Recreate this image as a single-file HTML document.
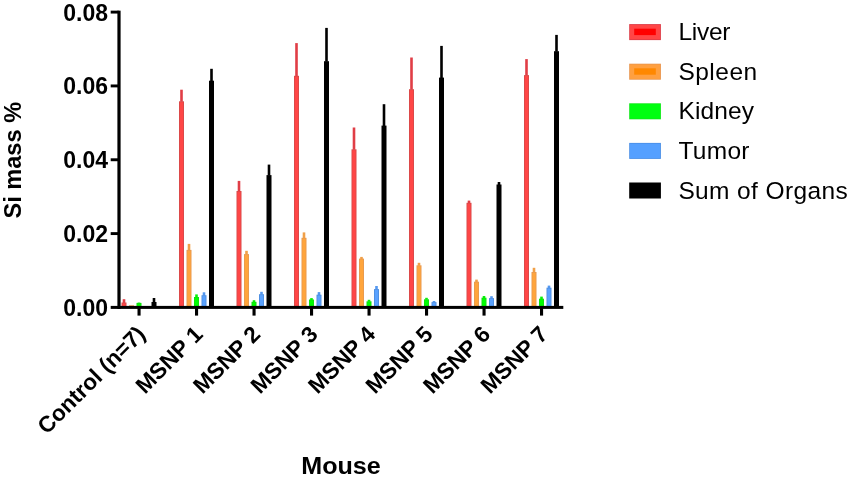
<!DOCTYPE html>
<html><head><meta charset="utf-8"><style>
html,body{margin:0;padding:0;background:#fff;}
body{width:850px;height:478px;overflow:hidden;}
svg{display:block;will-change:transform;}
.b{font-family:"Liberation Sans",sans-serif;font-weight:bold;fill:#000;}
.r{font-family:"Liberation Sans",sans-serif;font-weight:normal;fill:#000;}
</style></head><body>
<svg width="850" height="478" viewBox="0 0 850 478">
<rect width="850" height="478" fill="#fff"/>
<rect x="122.70" y="299.20" width="2.6" height="3.80" fill="#e03e46"/>
<rect x="121.50" y="302.50" width="5.0" height="4.50" fill="#d84a4a"/>
<rect x="122.40" y="303.40" width="3.20" height="3.60" fill="#ff4646"/>
<rect x="129.00" y="305.30" width="5.0" height="1.70" fill="#e89a50"/>
<rect x="137.70" y="302.60" width="2.6" height="0.80" fill="#08f008"/>
<rect x="136.50" y="302.90" width="5.0" height="4.10" fill="#10e010"/>
<rect x="137.40" y="303.80" width="3.20" height="3.20" fill="#00ff00"/>
<rect x="152.70" y="298.00" width="2.6" height="4.50" fill="#000000"/>
<rect x="151.50" y="302.00" width="5.0" height="5.00" fill="#000000"/>
<rect x="152.40" y="302.90" width="3.20" height="4.10" fill="#000000"/>
<rect x="180.20" y="89.70" width="2.6" height="12.10" fill="#e03e46"/>
<rect x="179.00" y="101.30" width="5.0" height="205.70" fill="#d84a4a"/>
<rect x="179.90" y="102.20" width="3.20" height="204.80" fill="#ff4646"/>
<rect x="187.70" y="243.90" width="2.6" height="6.50" fill="#f0a048"/>
<rect x="186.50" y="249.90" width="5.0" height="57.10" fill="#e89a50"/>
<rect x="187.40" y="250.80" width="3.20" height="56.20" fill="#ffa53c"/>
<rect x="195.20" y="294.40" width="2.6" height="3.10" fill="#08f008"/>
<rect x="194.00" y="297.00" width="5.0" height="10.00" fill="#10e010"/>
<rect x="194.90" y="297.90" width="3.20" height="9.10" fill="#00ff00"/>
<rect x="202.70" y="292.30" width="2.6" height="3.40" fill="#5498f0"/>
<rect x="201.50" y="295.20" width="5.0" height="11.80" fill="#4e8ee0"/>
<rect x="202.40" y="296.10" width="3.20" height="10.90" fill="#5aa2ff"/>
<rect x="210.20" y="68.80" width="2.6" height="12.40" fill="#000000"/>
<rect x="209.00" y="80.70" width="5.0" height="226.30" fill="#000000"/>
<rect x="209.90" y="81.60" width="3.20" height="225.40" fill="#000000"/>
<rect x="237.70" y="180.90" width="2.6" height="10.60" fill="#e03e46"/>
<rect x="236.50" y="191.00" width="5.0" height="116.00" fill="#d84a4a"/>
<rect x="237.40" y="191.90" width="3.20" height="115.10" fill="#ff4646"/>
<rect x="245.20" y="250.80" width="2.6" height="3.80" fill="#f0a048"/>
<rect x="244.00" y="254.10" width="5.0" height="52.90" fill="#e89a50"/>
<rect x="244.90" y="255.00" width="3.20" height="52.00" fill="#ffa53c"/>
<rect x="252.70" y="300.20" width="2.6" height="2.10" fill="#08f008"/>
<rect x="251.50" y="301.80" width="5.0" height="5.20" fill="#10e010"/>
<rect x="252.40" y="302.70" width="3.20" height="4.30" fill="#00ff00"/>
<rect x="260.20" y="291.80" width="2.6" height="2.90" fill="#5498f0"/>
<rect x="259.00" y="294.20" width="5.0" height="12.80" fill="#4e8ee0"/>
<rect x="259.90" y="295.10" width="3.20" height="11.90" fill="#5aa2ff"/>
<rect x="267.70" y="164.60" width="2.6" height="11.00" fill="#000000"/>
<rect x="266.50" y="175.10" width="5.0" height="131.90" fill="#000000"/>
<rect x="267.40" y="176.00" width="3.20" height="131.00" fill="#000000"/>
<rect x="295.20" y="43.10" width="2.6" height="33.20" fill="#e03e46"/>
<rect x="294.00" y="75.80" width="5.0" height="231.20" fill="#d84a4a"/>
<rect x="294.90" y="76.70" width="3.20" height="230.30" fill="#ff4646"/>
<rect x="302.70" y="232.40" width="2.6" height="5.90" fill="#f0a048"/>
<rect x="301.50" y="237.80" width="5.0" height="69.20" fill="#e89a50"/>
<rect x="302.40" y="238.70" width="3.20" height="68.30" fill="#ffa53c"/>
<rect x="310.20" y="298.10" width="2.6" height="1.90" fill="#08f008"/>
<rect x="309.00" y="299.50" width="5.0" height="7.50" fill="#10e010"/>
<rect x="309.90" y="300.40" width="3.20" height="6.60" fill="#00ff00"/>
<rect x="317.70" y="292.10" width="2.6" height="3.10" fill="#5498f0"/>
<rect x="316.50" y="294.70" width="5.0" height="12.30" fill="#4e8ee0"/>
<rect x="317.40" y="295.60" width="3.20" height="11.40" fill="#5aa2ff"/>
<rect x="325.20" y="27.90" width="2.6" height="33.80" fill="#000000"/>
<rect x="324.00" y="61.20" width="5.0" height="245.80" fill="#000000"/>
<rect x="324.90" y="62.10" width="3.20" height="244.90" fill="#000000"/>
<rect x="352.70" y="127.50" width="2.6" height="22.30" fill="#e03e46"/>
<rect x="351.50" y="149.30" width="5.0" height="157.70" fill="#d84a4a"/>
<rect x="352.40" y="150.20" width="3.20" height="156.80" fill="#ff4646"/>
<rect x="360.20" y="256.90" width="2.6" height="2.20" fill="#f0a048"/>
<rect x="359.00" y="258.60" width="5.0" height="48.40" fill="#e89a50"/>
<rect x="359.90" y="259.50" width="3.20" height="47.50" fill="#ffa53c"/>
<rect x="367.70" y="299.80" width="2.6" height="2.00" fill="#08f008"/>
<rect x="366.50" y="301.30" width="5.0" height="5.70" fill="#10e010"/>
<rect x="367.40" y="302.20" width="3.20" height="4.80" fill="#00ff00"/>
<rect x="375.20" y="286.00" width="2.6" height="3.60" fill="#5498f0"/>
<rect x="374.00" y="289.10" width="5.0" height="17.90" fill="#4e8ee0"/>
<rect x="374.90" y="290.00" width="3.20" height="17.00" fill="#5aa2ff"/>
<rect x="382.70" y="104.20" width="2.6" height="21.90" fill="#000000"/>
<rect x="381.50" y="125.60" width="5.0" height="181.40" fill="#000000"/>
<rect x="382.40" y="126.50" width="3.20" height="180.50" fill="#000000"/>
<rect x="410.20" y="57.50" width="2.6" height="32.20" fill="#e03e46"/>
<rect x="409.00" y="89.20" width="5.0" height="217.80" fill="#d84a4a"/>
<rect x="409.90" y="90.10" width="3.20" height="216.90" fill="#ff4646"/>
<rect x="417.70" y="262.80" width="2.6" height="3.00" fill="#f0a048"/>
<rect x="416.50" y="265.30" width="5.0" height="41.70" fill="#e89a50"/>
<rect x="417.40" y="266.20" width="3.20" height="40.80" fill="#ffa53c"/>
<rect x="425.20" y="297.80" width="2.6" height="2.00" fill="#08f008"/>
<rect x="424.00" y="299.30" width="5.0" height="7.70" fill="#10e010"/>
<rect x="424.90" y="300.20" width="3.20" height="6.80" fill="#00ff00"/>
<rect x="432.70" y="301.00" width="2.6" height="1.60" fill="#5498f0"/>
<rect x="431.50" y="302.10" width="5.0" height="4.90" fill="#4e8ee0"/>
<rect x="432.40" y="303.00" width="3.20" height="4.00" fill="#5aa2ff"/>
<rect x="440.20" y="45.90" width="2.6" height="32.20" fill="#000000"/>
<rect x="439.00" y="77.60" width="5.0" height="229.40" fill="#000000"/>
<rect x="439.90" y="78.50" width="3.20" height="228.50" fill="#000000"/>
<rect x="467.70" y="200.60" width="2.6" height="2.70" fill="#e03e46"/>
<rect x="466.50" y="202.80" width="5.0" height="104.20" fill="#d84a4a"/>
<rect x="467.40" y="203.70" width="3.20" height="103.30" fill="#ff4646"/>
<rect x="475.20" y="279.60" width="2.6" height="2.60" fill="#f0a048"/>
<rect x="474.00" y="281.70" width="5.0" height="25.30" fill="#e89a50"/>
<rect x="474.90" y="282.60" width="3.20" height="24.40" fill="#ffa53c"/>
<rect x="482.70" y="296.00" width="2.6" height="2.20" fill="#08f008"/>
<rect x="481.50" y="297.70" width="5.0" height="9.30" fill="#10e010"/>
<rect x="482.40" y="298.60" width="3.20" height="8.40" fill="#00ff00"/>
<rect x="490.20" y="296.20" width="2.6" height="2.40" fill="#5498f0"/>
<rect x="489.00" y="298.10" width="5.0" height="8.90" fill="#4e8ee0"/>
<rect x="489.90" y="299.00" width="3.20" height="8.00" fill="#5aa2ff"/>
<rect x="497.70" y="182.00" width="2.6" height="3.00" fill="#000000"/>
<rect x="496.50" y="184.50" width="5.0" height="122.50" fill="#000000"/>
<rect x="497.40" y="185.40" width="3.20" height="121.60" fill="#000000"/>
<rect x="525.20" y="59.10" width="2.6" height="16.50" fill="#e03e46"/>
<rect x="524.00" y="75.10" width="5.0" height="231.90" fill="#d84a4a"/>
<rect x="524.90" y="76.00" width="3.20" height="231.00" fill="#ff4646"/>
<rect x="532.70" y="267.80" width="2.6" height="4.70" fill="#f0a048"/>
<rect x="531.50" y="272.00" width="5.0" height="35.00" fill="#e89a50"/>
<rect x="532.40" y="272.90" width="3.20" height="34.10" fill="#ffa53c"/>
<rect x="540.20" y="296.60" width="2.6" height="2.60" fill="#08f008"/>
<rect x="539.00" y="298.70" width="5.0" height="8.30" fill="#10e010"/>
<rect x="539.90" y="299.60" width="3.20" height="7.40" fill="#00ff00"/>
<rect x="547.70" y="285.60" width="2.6" height="2.60" fill="#5498f0"/>
<rect x="546.50" y="287.70" width="5.0" height="19.30" fill="#4e8ee0"/>
<rect x="547.40" y="288.60" width="3.20" height="18.40" fill="#5aa2ff"/>
<rect x="555.20" y="34.90" width="2.6" height="16.80" fill="#000000"/>
<rect x="554.00" y="51.20" width="5.0" height="255.80" fill="#000000"/>
<rect x="554.90" y="52.10" width="3.20" height="254.90" fill="#000000"/>
<rect x="117.4" y="10.65" width="3.2" height="298.35" fill="#000"/>
<rect x="110.7" y="305.9" width="452.6" height="3" fill="#000"/>
<rect x="110.7" y="10.65" width="8" height="2.9" fill="#000"/>
<rect x="110.7" y="84.48" width="8" height="2.9" fill="#000"/>
<rect x="110.7" y="158.31" width="8" height="2.9" fill="#000"/>
<rect x="110.7" y="232.14" width="8" height="2.9" fill="#000"/>
<rect x="137.50" y="308" width="3.1" height="7.6" fill="#000"/>
<rect x="195.00" y="308" width="3.1" height="7.6" fill="#000"/>
<rect x="252.50" y="308" width="3.1" height="7.6" fill="#000"/>
<rect x="310.00" y="308" width="3.1" height="7.6" fill="#000"/>
<rect x="367.50" y="308" width="3.1" height="7.6" fill="#000"/>
<rect x="425.00" y="308" width="3.1" height="7.6" fill="#000"/>
<rect x="482.50" y="308" width="3.1" height="7.6" fill="#000"/>
<rect x="540.00" y="308" width="3.1" height="7.6" fill="#000"/>
<text x="108" y="20.50" text-anchor="end" class="b" font-size="23">0.08</text>
<text x="108" y="94.33" text-anchor="end" class="b" font-size="23">0.06</text>
<text x="108" y="168.16" text-anchor="end" class="b" font-size="23">0.04</text>
<text x="108" y="241.99" text-anchor="end" class="b" font-size="23">0.02</text>
<text x="108" y="315.82" text-anchor="end" class="b" font-size="23">0.00</text>
<text transform="translate(21.2,218.6) rotate(-90)" class="b" font-size="23.6">Si mass %</text>
<text transform="translate(341,474.1) scale(1.025,1)" text-anchor="middle" class="b" font-size="24.5">Mouse</text>
<text transform="translate(146.65,335.5) rotate(-45)" text-anchor="end" class="b" font-size="22.6">Control (n=7)</text>
<text transform="translate(204.15,335.5) rotate(-45)" text-anchor="end" class="b" font-size="22.6">MSNP 1</text>
<text transform="translate(261.65,335.5) rotate(-45)" text-anchor="end" class="b" font-size="22.6">MSNP 2</text>
<text transform="translate(319.15,335.5) rotate(-45)" text-anchor="end" class="b" font-size="22.6">MSNP 3</text>
<text transform="translate(376.65,335.5) rotate(-45)" text-anchor="end" class="b" font-size="22.6">MSNP 4</text>
<text transform="translate(434.15,335.5) rotate(-45)" text-anchor="end" class="b" font-size="22.6">MSNP 5</text>
<text transform="translate(491.65,335.5) rotate(-45)" text-anchor="end" class="b" font-size="22.6">MSNP 6</text>
<text transform="translate(549.15,335.5) rotate(-45)" text-anchor="end" class="b" font-size="22.6">MSNP 7</text>
<rect x="629.2" y="24.10" width="31.7" height="16" fill="#dc3c46"/>
<rect x="630.0" y="24.90" width="30.1" height="14.4" fill="#ff4646"/>
<rect x="634.2" y="28.70" width="21.6" height="6.4" fill="#ff0000"/>
<text x="678.4" y="40.10" class="r" font-size="24.5" letter-spacing="-0.25">Liver</text>
<rect x="629.2" y="63.70" width="31.7" height="16" fill="#e8944c"/>
<rect x="630.0" y="64.50" width="30.1" height="14.4" fill="#ffa040"/>
<rect x="634.2" y="68.30" width="21.6" height="6.4" fill="#ff8800"/>
<text x="678.4" y="79.70" class="r" font-size="24.5" letter-spacing="0.5">Spleen</text>
<rect x="629.2" y="103.30" width="31.7" height="16" fill="#10e818"/>
<rect x="630.0" y="104.10" width="30.1" height="14.4" fill="#00ff10"/>
<text x="678.4" y="119.30" class="r" font-size="24.5" letter-spacing="0.15">Kidney</text>
<rect x="629.2" y="142.90" width="31.7" height="16" fill="#4a8ee6"/>
<rect x="630.0" y="143.70" width="30.1" height="14.4" fill="#55a0ff"/>
<text x="678.4" y="158.90" class="r" font-size="24.5" letter-spacing="0.3">Tumor</text>
<rect x="629.2" y="182.50" width="31.7" height="16" fill="#000000"/>
<rect x="630.0" y="183.30" width="30.1" height="14.4" fill="#000000"/>
<text x="678.4" y="198.50" class="r" font-size="24.5" letter-spacing="0.38">Sum of Organs</text>
</svg>
</body></html>
